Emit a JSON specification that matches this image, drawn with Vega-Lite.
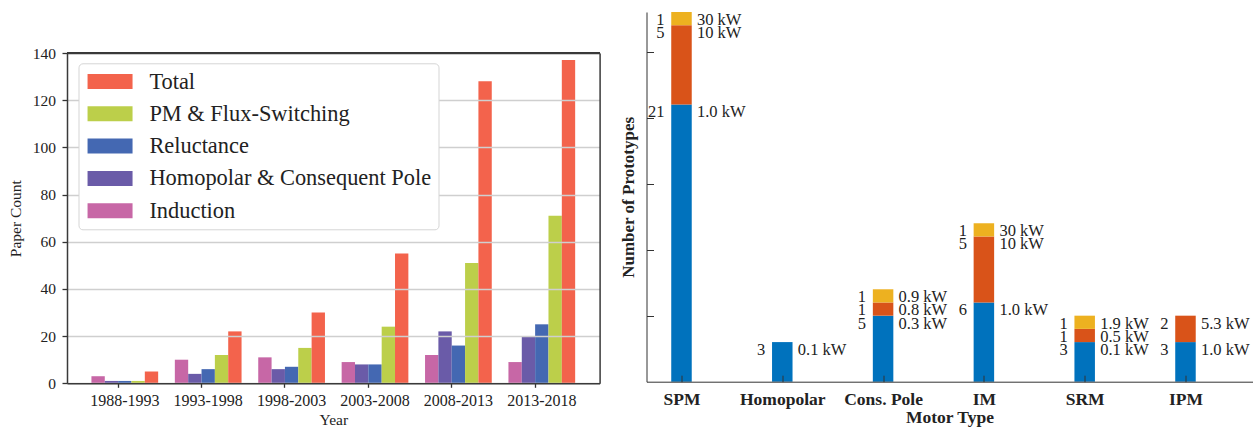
{
  "$schema": "https://vega.github.io/schema/vega-lite/v6.json",
  "padding": {"left": 8, "top": 12, "right": 0, "bottom": 0},
  "spacing": 17.5,
  "resolve": {"scale": {"color": "independent"}, "legend": {"color": "independent"}},
  "config": {
    "font": "Liberation Serif",
    "axis": {"labelColor": "#222222", "titleColor": "#222222", "labelFont": "Liberation Serif", "titleFont": "Liberation Serif"},
    "legend": {"labelFont": "Liberation Serif"},
    "text": {"font": "Liberation Serif"}
  },
  "hconcat": [
    {
      "width": 532.6,
      "height": 371.3,
      "view": {"stroke": null},
      "data": {"values": [
        {"period": "1988-1993", "type": "Induction", "count": 3},
        {"period": "1988-1993", "type": "Homopolar & Consequent Pole", "count": 1},
        {"period": "1988-1993", "type": "Reluctance", "count": 1},
        {"period": "1988-1993", "type": "PM & Flux-Switching", "count": 1},
        {"period": "1988-1993", "type": "Total", "count": 5},
        {"period": "1993-1998", "type": "Induction", "count": 10},
        {"period": "1993-1998", "type": "Homopolar & Consequent Pole", "count": 4},
        {"period": "1993-1998", "type": "Reluctance", "count": 6},
        {"period": "1993-1998", "type": "PM & Flux-Switching", "count": 12},
        {"period": "1993-1998", "type": "Total", "count": 22},
        {"period": "1998-2003", "type": "Induction", "count": 11},
        {"period": "1998-2003", "type": "Homopolar & Consequent Pole", "count": 6},
        {"period": "1998-2003", "type": "Reluctance", "count": 7},
        {"period": "1998-2003", "type": "PM & Flux-Switching", "count": 15},
        {"period": "1998-2003", "type": "Total", "count": 30},
        {"period": "2003-2008", "type": "Induction", "count": 9},
        {"period": "2003-2008", "type": "Homopolar & Consequent Pole", "count": 8},
        {"period": "2003-2008", "type": "Reluctance", "count": 8},
        {"period": "2003-2008", "type": "PM & Flux-Switching", "count": 24},
        {"period": "2003-2008", "type": "Total", "count": 55},
        {"period": "2008-2013", "type": "Induction", "count": 12},
        {"period": "2008-2013", "type": "Homopolar & Consequent Pole", "count": 22},
        {"period": "2008-2013", "type": "Reluctance", "count": 16},
        {"period": "2008-2013", "type": "PM & Flux-Switching", "count": 51},
        {"period": "2008-2013", "type": "Total", "count": 128},
        {"period": "2013-2018", "type": "Induction", "count": 9},
        {"period": "2013-2018", "type": "Homopolar & Consequent Pole", "count": 20},
        {"period": "2013-2018", "type": "Reluctance", "count": 25},
        {"period": "2013-2018", "type": "PM & Flux-Switching", "count": 71},
        {"period": "2013-2018", "type": "Total", "count": 137}
      ]},
      "layer": [
        {
          "mark": {"type": "bar"},
          "encoding": {
            "x": {
              "field": "period", "type": "nominal",
              "sort": ["1988-1993", "1993-1998", "1998-2003", "2003-2008", "2008-2013", "2013-2018"],
              "scale": {"paddingInner": 0.2, "paddingOuter": 0.293},
              "axis": {
                "title": "Year", "titleFontSize": 15.5, "titleFontWeight": "normal", "titlePadding": 4,
                "labelAngle": 0, "labelFontSize": 16, "labelPadding": 5,
                "bandPosition": 0.4, "tickSize": 4, "tickColor": "#333333", "tickWidth": 1.3,
                "domainColor": "#3a3a3a", "domainWidth": 1.5, "grid": false, "zindex": 1
              }
            },
            "xOffset": {
              "field": "type", "type": "nominal",
              "sort": ["Induction", "Homopolar & Consequent Pole", "Reluctance", "PM & Flux-Switching", "Total"],
              "scale": {"paddingInner": 0, "paddingOuter": 0}
            },
            "y": {
              "field": "count", "type": "quantitative",
              "scale": {"domain": [0, 140], "nice": false, "range": [371.3, 41]},
              "axis": {
                "values": [0, 20, 40, 60, 80, 100, 120, 140],
                "title": "Paper Count", "titleFontSize": 15.5, "titleFontWeight": "normal", "titlePadding": 9,
                "labelFontSize": 15.5, "labelPadding": 6.5,
                "tickSize": 5, "tickColor": "#333333", "tickWidth": 1.3,
                "domainColor": "#3a3a3a", "domainWidth": 1.5,
                "grid": true,
                "gridColor": {"condition": {"test": "datum.value === 140", "value": "#3a3a3a"}, "value": "#cfcfcf"},
                "gridWidth": 1.5, "zindex": 1
              }
            },
            "color": {
              "field": "type", "type": "nominal",
              "scale": {
                "domain": ["Total", "PM & Flux-Switching", "Reluctance", "Homopolar & Consequent Pole", "Induction"],
                "range": ["#f3634c", "#bccf4a", "#4468b2", "#6a5ba8", "#c767a6"]
              },
              "legend": {
                "orient": "none", "legendX": 11.5, "legendY": 51.3, "zindex": 3,
                "title": null,
                "symbolType": "M-1.22,-1H4.78V1H-1.22Z", "symbolSize": 225, "symbolStrokeWidth": 0, "symbolOpacity": 1,
                "labelFontSize": 22.4, "labelColor": "#222222", "labelOffset": 41.5, "labelLimit": 500,
                "rowPadding": 9.3, "padding": 7,
                "strokeColor": "#d5d5d5", "fillColor": "#ffffff", "cornerRadius": 4
              }
            }
          }
        },
        {
          "mark": {"type": "rule", "color": "#3a3a3a", "strokeWidth": 1.5},
          "encoding": {
            "y": {
              "datum": 140, "type": "quantitative",
              "axis": {"orient": "right", "labels": false, "ticks": false, "grid": false, "title": null,
                       "domainColor": "#3a3a3a", "domainWidth": 1.5, "zindex": 1}
            }
          }
        }
      ],
      "resolve": {"axis": {"y": "independent"}}
    },
    {
      "width": 606,
      "height": 369.7,
      "view": {"stroke": null},
      "data": {"values": [
        {"motor": "SPM", "tier": 1, "count": 21, "n": "21", "kw": "1.0 kW"},
        {"motor": "SPM", "tier": 2, "count": 6, "n": "5", "kw": "10 kW"},
        {"motor": "SPM", "tier": 3, "count": 1, "n": "1", "kw": "30 kW"},
        {"motor": "Homopolar", "tier": 1, "count": 3, "n": "3", "kw": "0.1 kW"},
        {"motor": "Cons. Pole", "tier": 1, "count": 5, "n": "5", "kw": "0.3 kW"},
        {"motor": "Cons. Pole", "tier": 2, "count": 1, "n": "1", "kw": "0.8 kW"},
        {"motor": "Cons. Pole", "tier": 3, "count": 1, "n": "1", "kw": "0.9 kW"},
        {"motor": "IM", "tier": 1, "count": 6, "n": "6", "kw": "1.0 kW"},
        {"motor": "IM", "tier": 2, "count": 5, "n": "5", "kw": "10 kW"},
        {"motor": "IM", "tier": 3, "count": 1, "n": "1", "kw": "30 kW"},
        {"motor": "SRM", "tier": 1, "count": 3, "n": "3", "kw": "0.1 kW"},
        {"motor": "SRM", "tier": 2, "count": 1, "n": "1", "kw": "0.5 kW"},
        {"motor": "SRM", "tier": 3, "count": 1, "n": "1", "kw": "1.9 kW"},
        {"motor": "IPM", "tier": 1, "count": 3, "n": "3", "kw": "1.0 kW"},
        {"motor": "IPM", "tier": 2, "count": 2, "n": "2", "kw": "5.3 kW"}
      ]},
      "transform": [
        {"stack": "count", "groupby": ["motor"], "sort": [{"field": "tier", "order": "ascending"}], "as": ["lo", "hi"]}
      ],
      "encoding": {
        "x": {
          "field": "motor", "type": "nominal",
          "sort": ["SPM", "Homopolar", "Cons. Pole", "IM", "SRM", "IPM"],
          "scale": {"type": "point", "padding": 0.506, "align": 0.343},
          "axis": {
            "title": "Motor Type", "titleFontSize": 17.5, "titleFontWeight": "bold", "titlePadding": 1,
            "labelAngle": 0, "labelFontSize": 17.5, "labelFontWeight": "bold", "labelPadding": 15,
            "tickSize": -6.5, "tickColor": "#333333", "domainColor": "#333333", "grid": false, "zindex": 1
          }
        }
      },
      "layer": [
        {
          "mark": {"type": "bar", "width": 20.5},
          "encoding": {
            "y": {
              "field": "lo", "type": "quantitative",
              "scale": {"domain": [0, 28], "nice": false},
              "axis": {
                "values": [5, 10, 15, 20, 25], "labels": false,
                "title": "Number of Prototypes", "titleFontSize": 17, "titleFontWeight": "bold", "titlePadding": 9,
                "tickSize": -7, "tickColor": "#333333", "domainColor": "#333333", "grid": false, "zindex": 1
              }
            },
            "y2": {"field": "hi"},
            "color": {
              "field": "tier", "type": "ordinal",
              "scale": {"domain": [1, 2, 3], "range": ["#0072BD", "#D95319", "#EDB120"]},
              "legend": null
            }
          }
        },
        {
          "mark": {"type": "text", "align": "right", "baseline": "top", "dx": -17, "fontSize": 16.5, "color": "#222222"},
          "encoding": {
            "y": {"field": "hi", "type": "quantitative"},
            "text": {"field": "n"}
          }
        },
        {
          "mark": {"type": "text", "align": "left", "baseline": "top", "dx": 15.5, "fontSize": 16.5, "color": "#222222"},
          "encoding": {
            "y": {"field": "hi", "type": "quantitative"},
            "text": {"field": "kw"}
          }
        }
      ]
    }
  ]
}
